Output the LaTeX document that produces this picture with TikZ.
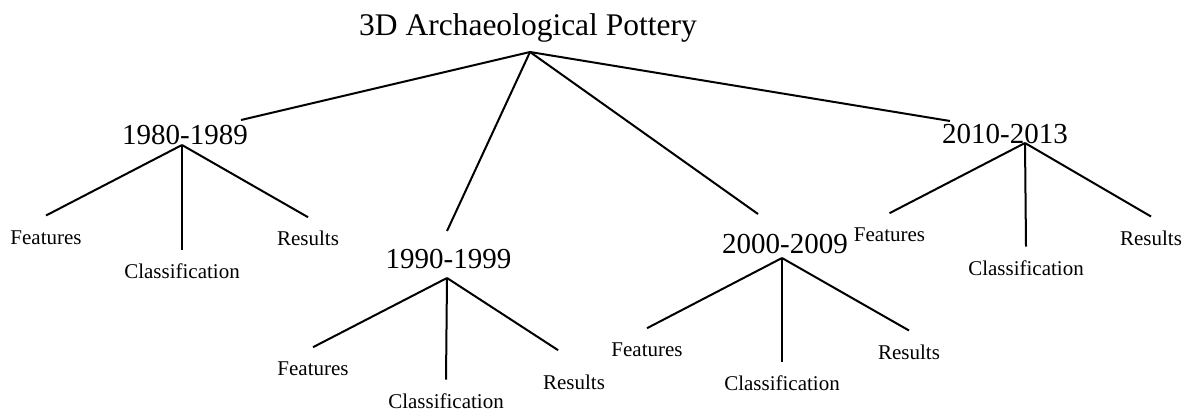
\documentclass[tikz,border=0pt]{standalone}
\usepackage{fontspec}
\setmainfont{Liberation Serif}
\usepackage{tikz}

\begin{document}
\begin{tikzpicture}[x=0.5pt, y=-0.5pt, line width=1pt,
    every node/.style={inner sep=0pt, anchor=base},
    rootlabel/.style={font=\fontsize{15.75}{18}\selectfont},
    yearlabel/.style={font=\fontsize{14.5}{17}\selectfont},
    leaflabel/.style={font=\fontsize{10.5}{12}\selectfont, text height=13.75pt}]
    \useasboundingbox (0,0) rectangle (1193,413);

    % Root
    \node[rootlabel] (root) at (528,35) {3D Archaeological Pottery};
    \coordinate (hub) at (530,52);

    % Decades
    \node[yearlabel] (d80) at (185,144) {1980-1989};
    \node[yearlabel] (d90) at (448.5,268) {1990-1999};
    \node[yearlabel] (d00) at (785,253) {2000-2009};
    \node[yearlabel] (d10) at (1005,143) {2010-2013};
    \coordinate (d80in) at (241,120);
    \coordinate (d90in) at (447,231);
    \coordinate (d00in) at (758,214);
    \coordinate (d10in) at (950,121);
    \coordinate (d80hub) at (182,145);
    \coordinate (d90hub) at (447,278);
    \coordinate (d00hub) at (782,258);
    \coordinate (d10hub) at (1025,143);

    % 1980-1989
    \node[leaflabel] (f80) at (46,244) {Features};
    \node[leaflabel] (c80) at (182,278) {Classification};
    \node[leaflabel] (r80) at (308,245.7) {Results};

    % 1990-1999
    \node[leaflabel] (f90) at (313,375.7) {Features};
    \node[leaflabel] (c90) at (446,408) {Classification};
    \node[leaflabel] (r90) at (574,389) {Results};

    % 2000-2009
    \node[leaflabel] (f00) at (647,356.7) {Features};
    \node[leaflabel] (c00) at (782,390.7) {Classification};
    \node[leaflabel] (r00) at (909,359) {Results};

    % 2010-2013
    \node[leaflabel] (f10) at (889.5,241.7) {Features};
    \node[leaflabel] (c10) at (1026,275) {Classification};
    \node[leaflabel] (r10) at (1151,245) {Results};

    % Branches
    \draw (hub) -- (d80in);
    \draw (hub) -- (d90in);
    \draw (hub) -- (d00in);
    \draw (hub) -- (d10in);

    \draw (d80hub) -- (f80.north);
    \draw (d80hub) -- (c80.north);
    \draw (d80hub) -- (r80.north);
    \draw (d90hub) -- (f90.north);
    \draw (d90hub) -- (c90.north);
    \draw[shorten >=9.5pt] (d90hub) -- (r90.north);
    \draw (d00hub) -- (f00.north);
    \draw (d00hub) -- (c00.north);
    \draw (d00hub) -- (r00.north);
    \draw (d10hub) -- (f10.north);
    \draw (d10hub) -- (c10.north);
    \draw (d10hub) -- (r10.north);
\end{tikzpicture}
\end{document}
